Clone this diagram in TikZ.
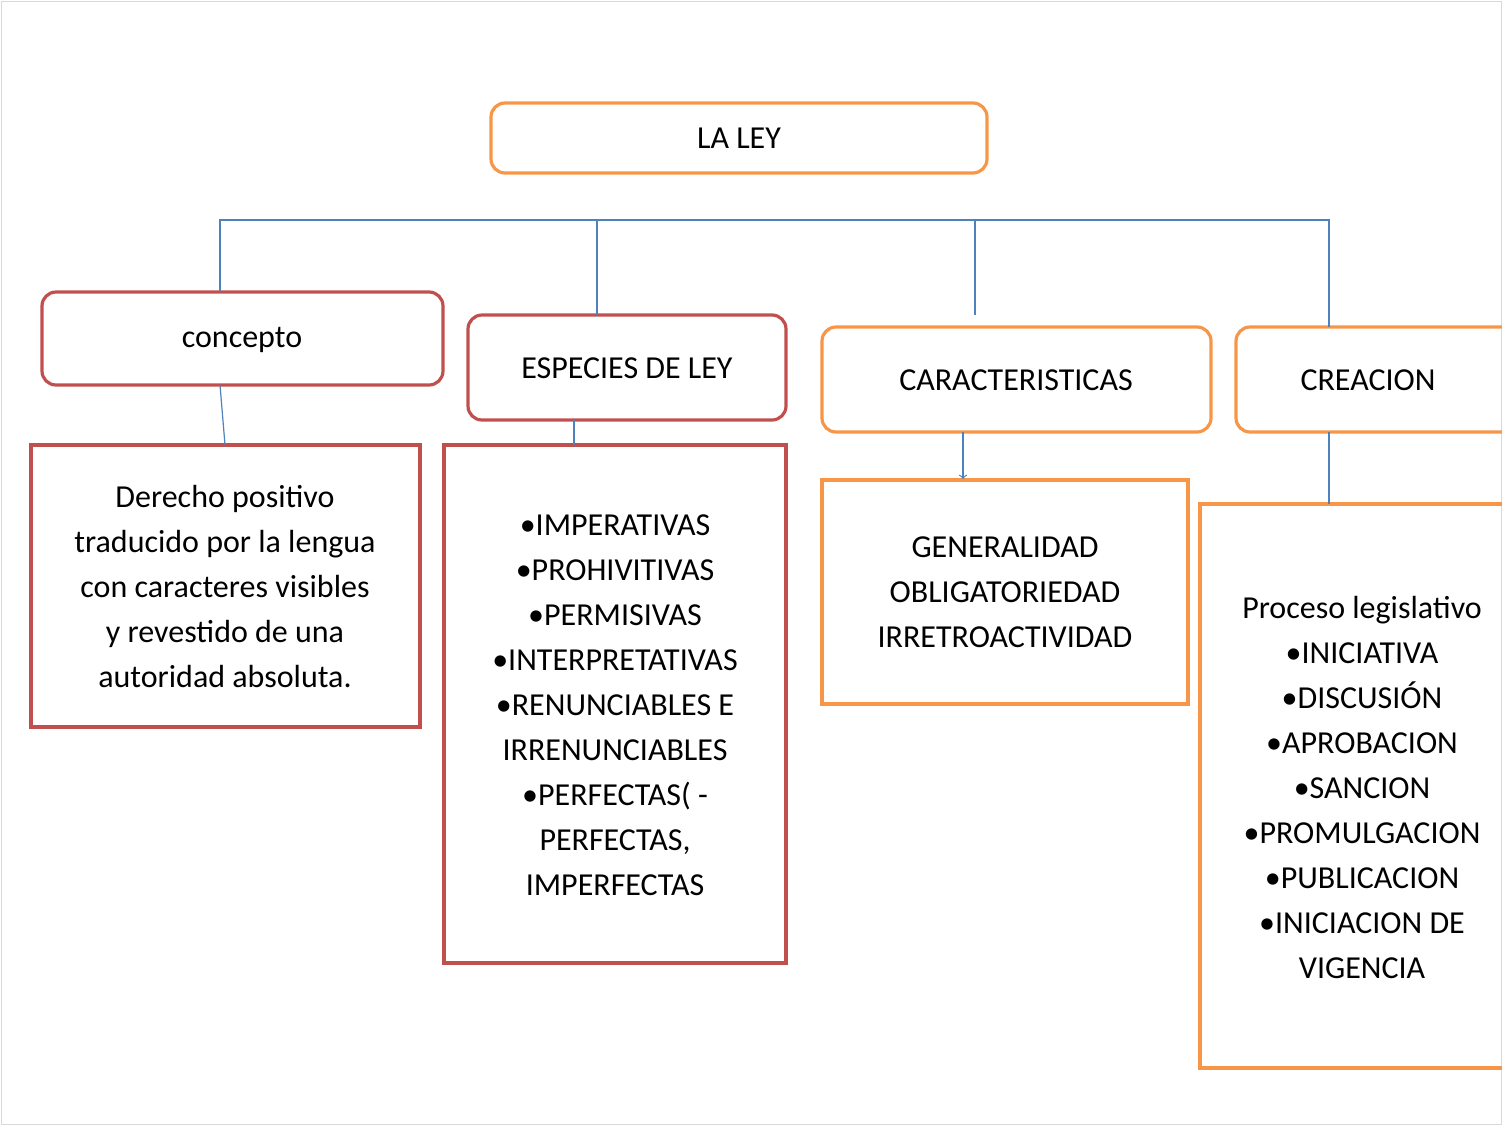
\documentclass[tikz,border=0pt]{standalone}
\usepackage{fontspec}
\setmainfont{Carlito}
\definecolor{org}{HTML}{F79646}
\definecolor{rd}{HTML}{C0504D}
\definecolor{bl}{HTML}{4F81BD}
\begin{document}
\begin{tikzpicture}[x=0.5pt,y=-0.5pt,
  rb/.style={draw=#1,line width=1.6pt,rounded corners=7pt},
  sb/.style={draw=#1,line width=1.6pt},
  ln/.style={draw=bl,line width=0.6pt},
  txt/.style={align=center,font=\fontsize{16}{22.5}\selectfont,inner sep=0pt}]
\useasboundingbox (0,0) rectangle (1502,1125);
\clip (0,0) rectangle (1502,1125);
\draw[gray!30,line width=0.5pt] (1,1) rectangle (1501,1124);
% headers
\draw[rb=org] (491,103) rectangle (987,173);
\node[txt] (ley) at (739,138) {LA LEY};
\draw[rb=rd] (42,292) rectangle (443,385);
\node[txt] (con) at (242,340) {concepto};
\draw[rb=rd] (468,315) rectangle (786,420);
\node[txt] (esp) at (627,368) {ESPECIES DE LEY};
\draw[rb=org] (822,327) rectangle (1211,432);
\node[txt] (car) at (1016,380) {CARACTERISTICAS};
\draw[rb=org] (1236,327) rectangle (1530,432);
\node[txt] (cre) at (1368,380) {CREACION};
% content boxes
\draw[sb=rd] (31,445) rectangle (420,727);
\node[txt] (der) at (225,587) {Derecho positivo\\traducido por la lengua\\con caracteres visibles\\y revestido de una\\autoridad absoluta.};
\draw[sb=rd] (444,445) rectangle (786,963);
\node[txt] (lst) at (615,705) {•IMPERATIVAS\\•PROHIVITIVAS\\•PERMISIVAS\\•INTERPRETATIVAS\\•RENUNCIABLES E\\IRRENUNCIABLES\\•PERFECTAS( -\\PERFECTAS,\\IMPERFECTAS};
\draw[sb=org] (822,480) rectangle (1188,704);
\node[txt] (gen) at (1005,592) {GENERALIDAD\\OBLIGATORIEDAD\\IRRETROACTIVIDAD};
\draw[sb=org] (1200,504) rectangle (1530,1068);
\node[txt] (pro) at (1362,787) {Proceso legislativo\\•INICIATIVA\\•DISCUSIÓN\\•APROBACION\\•SANCION\\•PROMULGACION\\•PUBLICACION\\•INICIACION DE\\VIGENCIA};
% connectors
\coordinate (h1) at (220,220); \coordinate (h4) at (1329,220);
\draw[ln] (220,292) -- (h1) -- (h4) -- (1329,327);
\draw[ln] (597,220) -- (597,315);
\draw[ln] (975,220) -- (975,315);
\draw[ln] (220,385) -- (225,445);
\draw[ln] (574,420) -- (574,445);
\draw[ln,->] (963,432) -- (963,479);
\draw[ln] (1329,432) -- (1329,504);
\end{tikzpicture}
\end{document}
